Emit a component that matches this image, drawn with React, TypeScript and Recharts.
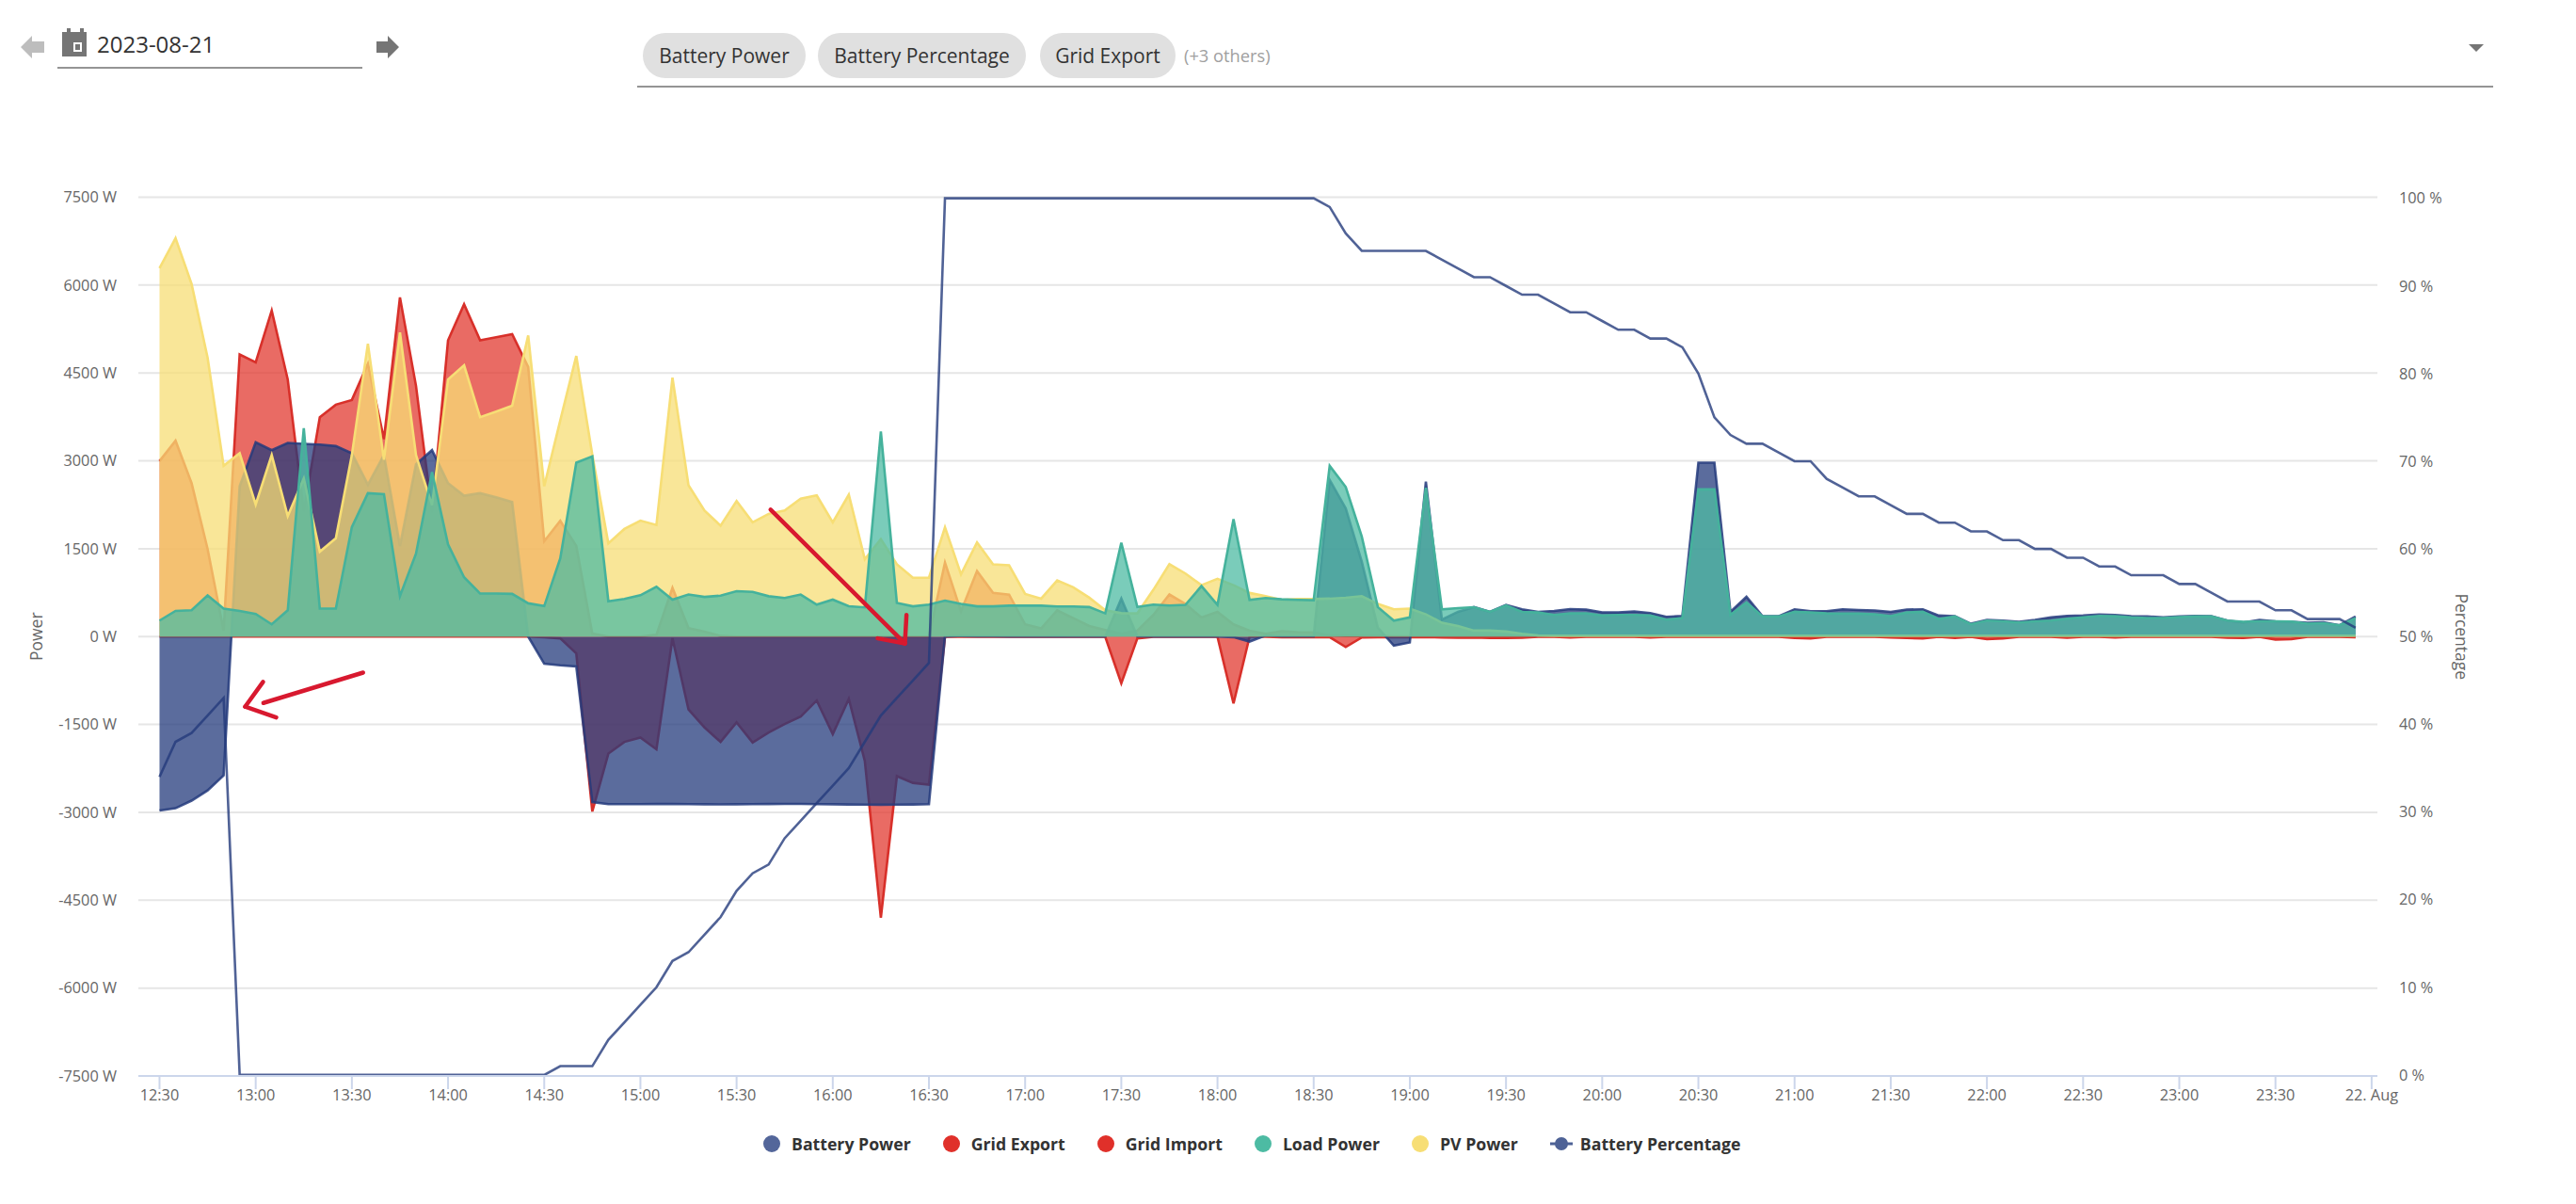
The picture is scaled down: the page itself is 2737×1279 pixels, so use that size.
import React from 'react';
import { ComposedChart, Area, Line, XAxis, YAxis, CartesianGrid, Legend, ReferenceLine } from 'recharts';

const FONT = '"Open Sans", sans-serif';

// minutes since midnight, one sample every five minutes from 12:30
const times = [
  750, 755, 760, 765, 770, 775, 780, 785, 790, 795, 800, 805,
  810, 815, 820, 825, 830, 835, 840, 845, 850, 855, 860, 865,
  870, 875, 880, 885, 890, 895, 900, 905, 910, 915, 920, 925,
  930, 935, 940, 945, 950, 955, 960, 965, 970, 975, 980, 985,
  990, 995, 1000, 1005, 1010, 1015, 1020, 1025, 1030, 1035, 1040, 1045,
  1050, 1055, 1060, 1065, 1070, 1075, 1080, 1085, 1090, 1095, 1100, 1105,
  1110, 1115, 1120, 1125, 1130, 1135, 1140, 1145, 1150, 1155, 1160, 1165,
  1170, 1175, 1180, 1185, 1190, 1195, 1200, 1205, 1210, 1215, 1220, 1225,
  1230, 1235, 1240, 1245, 1250, 1255, 1260, 1265, 1270, 1275, 1280, 1285,
  1290, 1295, 1300, 1305, 1310, 1315, 1320, 1325, 1330, 1335, 1340, 1345,
  1350, 1355, 1360, 1365, 1370, 1375, 1380, 1385, 1390, 1395, 1400, 1405,
  1410, 1415, 1420, 1425, 1430, 1435,
];

const batteryPower = [
  -2968, -2930, -2800, -2626, -2370, 2566, 3316, 3182, 3305, 3289, 3278, 3252,
  3128, 2593, 3100, 1548, 2941, 3182, 2620, 2405, 2448, 2378, 2298, 0,
  -463, -490, -510, -2824, -2859, -2860, -2860, -2858, -2858, -2860, -2862, -2865,
  -2862, -2860, -2858, -2856, -2855, -2860, -2862, -2866, -2868, -2870, -2868, -2866,
  -2860, 0, 10, 5, 5, 0, 0, 0, 5, 0, 0, 0,
  648, 5, 0, 0, 0, 0, 0, -10, -86, 20, 5, 5,
  5, 2673, 2191, 1280, 155, -155, -100, 2646, 289, 423, 503, 423,
  541, 466, 423, 439, 471, 460, 412, 412, 428, 402, 337, 353,
  2968, 2968, 423, 680, 348, 348, 466, 434, 434, 466, 455, 445,
  423, 461, 466, 359, 348, 220, 284, 273, 252, 284, 327, 353,
  359, 375, 370, 348, 343, 327, 343, 354, 348, 273, 241, 284,
  262, 252, 236, 246, 193, 343,
];

const gridExport = [
  0, 0, 0, 0, 0, 0, 0, 0, 0, 0, 0, 0,
  0, 0, 0, 0, 0, 0, 0, 0, 0, 0, 0, 0,
  -10, -30, -287, -2985, -1997, -1797, -1722, -1923, -29, -1245, -1550, -1797,
  -1464, -1808, -1636, -1492, -1366, -1091, -1665, -1062, -2124, -4800, -2382, -2497,
  -2526, 0, -5, -5, -5, -5, -5, -5, -5, -5, -5, -5,
  -798, -30, -5, -5, -5, -5, -5, -1141, -5, -5, -10, -10,
  -10, -10, -177, -15, -10, -10, -10, -10, -15, -20, -15, -25,
  -25, -20, -5, -5, -15, -5, -5, -5, -5, -15, -5, -5,
  -5, -5, -5, -5, -5, -5, -25, -30, -5, -5, -5, -5,
  -15, -25, -30, -5, -25, -5, -45, -30, -5, -5, -5, -20,
  -5, -5, -15, -5, -5, -5, -5, -5, -5, -20, -25, -5,
  -50, -45, -5, -5, -5, -10,
];

const gridImport = [
  2995, 3343, 2620, 1495, 100, 4816, 4682, 5566, 4387, 2137, 3745, 3959,
  4039, 4655, 3370, 5791, 4280, 2116, 5057, 5673, 5057, 5110, 5164, 4600,
  1628, 1977, 1548, 50, 0, 0, 0, 30, 832, 143, 86, 10,
  0, 0, 0, 0, 0, 0, 0, 0, 0, 0, 0, 0,
  0, 1263, 430, 1119, 746, 717, 209, 139, 450, 316, 182, 112,
  48, 102, 370, 718, 557, 327, 423, 209, 102, 48, 90, 75,
  70, 20, 10, 10, 10, 5, 5, 5, 5, 5, 5, 5,
  5, 5, 5, 5, 5, 5, 5, 5, 5, 5, 5, 5,
  5, 5, 5, 5, 5, 5, 5, 5, 5, 5, 5, 5,
  5, 5, 5, 5, 5, 5, 5, 5, 5, 5, 5, 5,
  5, 5, 5, 5, 5, 5, 5, 5, 5, 5, 5, 5,
  5, 5, 5, 5, 5, 5,
];

const loadPower = [
  273, 439, 450, 702, 477, 439, 386, 209, 450, 3557, 477, 477,
  1870, 2448, 2432, 691, 1414, 2807, 1575, 1012, 734, 734, 729, 568,
  520, 1334, 2968, 3075, 603, 643, 706, 850, 631, 718, 677, 700,
  775, 763, 689, 660, 718, 545, 631, 517, 499, 3501, 574, 517,
  545, 614, 557, 517, 517, 528, 528, 528, 514, 514, 504, 396,
  1602, 504, 546, 530, 541, 862, 541, 2003, 627, 659, 637, 627,
  621, 2914, 2555, 1709, 504, 273, 327, 2539, 466, 487, 503, 423,
  530, 423, 412, 370, 396, 396, 359, 370, 370, 359, 289, 316,
  2512, 2512, 370, 584, 343, 343, 423, 412, 396, 391, 391, 380,
  348, 412, 423, 300, 343, 209, 273, 262, 241, 262, 273, 305,
  327, 354, 348, 327, 316, 316, 332, 343, 343, 273, 252, 262,
  262, 257, 220, 230, 193, 316,
];

const pvPower = [
  6290, 6800, 6020, 4760, 2915, 3130, 2255, 3100, 2057, 2700, 1450, 1680,
  3100, 5000, 3020, 5190, 3100, 2245, 4390, 4630, 3745, 3840, 3940, 5140,
  2566, 3690, 4790, 3100, 1590, 1837, 1980, 1905, 4420, 2583, 2152, 1894,
  2313, 1950, 2095, 2152, 2353, 2410, 1950, 2422, 1320, 1665, 1234, 1005,
  1005, 1865, 1062, 1607, 1234, 1217, 729, 648, 959, 841, 664, 450,
  400, 396, 798, 1237, 1077, 878, 986, 878, 745, 691, 627, 640,
  640, 648, 664, 691, 557, 466, 477, 380, 236, 182, 102, 102,
  86, 48, 21, 15, 15, 15, 15, 15, 15, 15, 15, 15,
  15, 15, 15, 15, 15, 15, 15, 15, 15, 15, 15, 15,
  15, 15, 15, 15, 15, 15, 15, 15, 15, 15, 15, 15,
  15, 15, 15, 15, 15, 15, 15, 15, 15, 15, 15, 15,
  15, 15, 15, 15, 15, 15,
];

const batteryPercentage = [
  34, 38, 39, 41, 43, 0, 0, 0, 0, 0, 0, 0,
  0, 0, 0, 0, 0, 0, 0, 0, 0, 0, 0, 0,
  0, 1, 1, 1, 4, 6, 8, 10, 13, 14, 16, 18,
  21, 23, 24, 27, 29, 31, 33, 35, 38, 41, 43, 45,
  47, 100, 100, 100, 100, 100, 100, 100, 100, 100, 100, 100,
  100, 100, 100, 100, 100, 100, 100, 100, 100, 100, 100, 100,
  100, 99, 96, 94, 94, 94, 94, 94, 93, 92, 91, 91,
  90, 89, 89, 88, 87, 87, 86, 85, 85, 84, 84, 83,
  80, 75, 73, 72, 72, 71, 70, 70, 68, 67, 66, 66,
  65, 64, 64, 63, 63, 62, 62, 61, 61, 60, 60, 59,
  59, 58, 58, 57, 57, 57, 56, 56, 55, 54, 54, 54,
  53, 53, 52, 52, 52, 51,
];

const timeTicks = [750, 780, 810, 840, 870, 900, 930, 960, 990, 1020, 1050, 1080, 1110, 1140, 1170, 1200, 1230, 1260, 1290, 1320, 1350, 1380, 1410, 1440];
const powerTicks = [-7500, -6000, -4500, -3000, -1500, 0, 1500, 3000, 4500, 6000, 7500];
const percentTicks = [0, 10, 20, 30, 40, 50, 60, 70, 80, 90, 100];

// hand drawn red arrows on the screenshot, in chart units [time, watts]
const annotationStrokes = [
  [[813.5, -615], [782.4, -1133]],
  [[782.3, -773], [776.7, -1197]],
  [[776.7, -1197], [786.4, -1380]],
  [[940.6, 2168], [982.5, -117]],
  [[983, 371], [982.5, -117]],
  [[974, -30], [982.5, -117]],
];

const BLUE = '#243B7C';
const RED = '#E23A30';
const TEAL = '#4DBBA3';
const YELLOW = '#F7DE75';

const legendItems = [
  { name: 'Battery Power', color: '#53669A' },
  { name: 'Grid Export', color: '#E0302A' },
  { name: 'Grid Import', color: '#E0302A' },
  { name: 'Load Power', color: TEAL },
  { name: 'PV Power', color: YELLOW },
  { name: 'Battery Percentage', color: '#4E6296', line: true },
];

const chartData = times.map((time, i) => ({
  time,
  battery: batteryPower[i],
  exported: gridExport[i],
  imported: gridImport[i],
  load: loadPower[i],
  pv: pvPower[i],
  percent: batteryPercentage[i],
}));

const formatTime = (t: number) => {
  if (t === 1440) return '22. Aug';
  const h = Math.floor(t / 60);
  const m = t % 60;
  return `${h}:${m === 0 ? '00' : m}`;
};

const ChartLegend = () => (
  <div style={{ display: 'flex', alignItems: 'center', fontFamily: FONT, fontWeight: 700, fontSize: 17.7, color: '#333', whiteSpace: 'nowrap' }}>
    {legendItems.map((item) => (
      <div key={item.name} style={{ display: 'flex', alignItems: 'center', marginRight: 34 }}>
        {item.line ? (
          <svg width={24} height={18} style={{ marginRight: 8 }}>
            <line x1={0} y1={9} x2={24} y2={9} stroke={item.color} strokeWidth={3} />
            <circle cx={12} cy={9} r={7} fill={item.color} />
          </svg>
        ) : (
          <span style={{ width: 18, height: 18, borderRadius: 9, background: item.color, marginRight: 12 }} />
        )}
        {item.name}
      </div>
    ))}
  </div>
);

const chipStyle: React.CSSProperties = {
  position: 'absolute',
  top: 35,
  height: 48,
  borderRadius: 24,
  background: '#e0e0e0',
  color: '#333',
  fontSize: 21,
  lineHeight: '48px',
  textAlign: 'center',
};

const Toolbar = () => (
  <div style={{ fontFamily: FONT }}>
    <svg width={2737} height={100} style={{ position: 'absolute', left: 0, top: 0 }}>
      <polygon points="22,50 34,38 34,44 47,44 47,56 34,56 34,62" fill="#bdbdbd" />
      <polygon points="424,50 412,38 412,44 400,44 400,56 412,56 412,62" fill="#757575" />
      <path d="M66 34h5v-4h4v4h10v-4h4v4h3v26h-26z" fill="#757575" />
      <rect x={78} y={45} width={9} height={10} fill="#fff" />
      <rect x={80} y={47} width={5} height={6} fill="#757575" />
      <polygon points="2623,47 2639,47 2631,55" fill="#757575" />
    </svg>
    <div style={{ position: 'absolute', left: 103, top: 30, fontSize: 24, lineHeight: '34px', color: '#333' }}>2023-08-21</div>
    <div style={{ position: 'absolute', left: 61, top: 71, width: 324, height: 0, borderTop: '2px solid #949494' }} />
    <div style={{ ...chipStyle, left: 683, width: 173 }}>Battery Power</div>
    <div style={{ ...chipStyle, left: 869, width: 221 }}>Battery Percentage</div>
    <div style={{ ...chipStyle, left: 1105, width: 144 }}>Grid Export</div>
    <div style={{ position: 'absolute', left: 1258, top: 46, fontSize: 18.3, lineHeight: '26px', color: '#a0a0a0' }}>(+3 others)</div>
    <div style={{ position: 'absolute', left: 677, top: 91, width: 1972, height: 0, borderTop: '2px solid #949494' }} />
  </div>
);

export default function App() {
  const tickStyle = { fontFamily: FONT, fontSize: 16.3, fill: '#666' };
  const titleStyle = { fontFamily: FONT, fontSize: 17.5, fill: '#666' };
  return (
    <div style={{ position: 'absolute', left: 0, top: 0, width: 2737, height: 1279, background: '#fff' }}>
      <Toolbar />
      <ComposedChart
        width={2737}
        height={1279}
        data={chartData}
        margin={{ top: 209.5, right: 111, bottom: 96, left: 47 }}
        style={{ position: 'absolute', left: 0, top: 0 }}
      >
        <CartesianGrid yAxisId="power" vertical={false} stroke="#e6e6e6" strokeWidth={2} />
        <XAxis
          dataKey="time"
          type="number"
          scale="linear"
          domain={[743.4, 1441.8]}
          ticks={timeTicks}
          interval={0}
          height={40}
          tickFormatter={formatTime}
          tick={tickStyle}
          tickSize={14}
          tickMargin={0}
          stroke="#ccd6eb"
          strokeWidth={2}
          allowDataOverflow
        />
        <YAxis
          yAxisId="power"
          width={100}
          domain={[-7500, 7500]}
          ticks={powerTicks}
          interval={0}
          axisLine={false}
          tickLine={false}
          tickSize={0}
          tickMargin={23}
          tick={tickStyle}
          tickFormatter={(v: number) => `${v} W`}
          label={{ value: 'Power', angle: -90, position: 'center', dx: -58, style: titleStyle }}
        />
        <YAxis
          yAxisId="percent"
          orientation="right"
          width={100}
          domain={[-0.12, 100.12]}
          ticks={percentTicks}
          interval={0}
          axisLine={false}
          tickLine={false}
          tickSize={0}
          tickMargin={23}
          tick={tickStyle}
          tickFormatter={(v: number) => `${v} %`}
          label={{ value: 'Percentage', angle: 90, position: 'center', dx: 39, style: titleStyle }}
        />
        <Area yAxisId="power" type="linear" dataKey="exported" name="Grid Export" stroke="#D8302A" strokeWidth={2.6} fill={RED} fillOpacity={0.75} dot={false} isAnimationActive={false} />
        <Area yAxisId="power" type="linear" dataKey="imported" name="Grid Import" stroke="#D8302A" strokeWidth={2.6} fill={RED} fillOpacity={0.75} dot={false} isAnimationActive={false} />
        <Area yAxisId="power" type="linear" dataKey="battery" name="Battery Power" stroke={BLUE} strokeWidth={2.6} fill={BLUE} fillOpacity={0.75} strokeOpacity={0.85} dot={false} isAnimationActive={false} />
        <Area yAxisId="power" type="linear" dataKey="pv" name="PV Power" stroke={YELLOW} strokeWidth={2.6} fill={YELLOW} fillOpacity={0.75} dot={false} isAnimationActive={false} />
        <Area yAxisId="power" type="linear" dataKey="load" name="Load Power" stroke="#45B29C" strokeWidth={2.6} fill={TEAL} fillOpacity={0.75} dot={false} isAnimationActive={false} />
        <Line yAxisId="percent" type="linear" dataKey="percent" name="Battery Percentage" stroke={BLUE} strokeOpacity={0.8} strokeWidth={2.6} dot={false} isAnimationActive={false} />
        {annotationStrokes.map((seg, i) => (
          <ReferenceLine
            key={i}
            yAxisId="power"
            segment={[{ x: seg[0][0], y: seg[0][1] }, { x: seg[1][0], y: seg[1][1] }]}
            stroke="#D8192F"
            strokeWidth={4.5}
            strokeLinecap="round"
            ifOverflow="visible"
          />
        ))}
        <Legend
          layout="horizontal"
          verticalAlign="middle"
          content={<ChartLegend />}
          wrapperStyle={{ left: 811, top: 1203, width: 1100 }}
        />
      </ComposedChart>
    </div>
  );
}
